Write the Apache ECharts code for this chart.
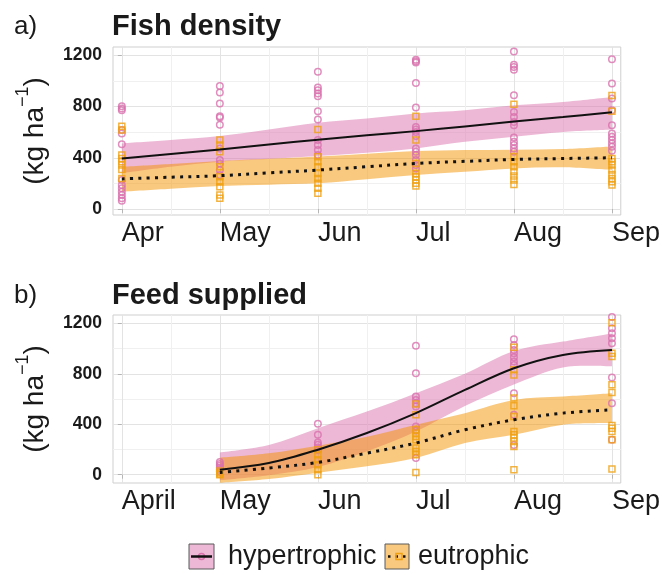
<!DOCTYPE html>
<html><head><meta charset="utf-8">
<script src="https://cdn.jsdelivr.net/npm/echarts@6/dist/echarts.min.js"></script>
<style>html,body{margin:0;padding:0;background:#fff}#c{width:663px;height:575px}</style>
</head><body><div id="c"></div>
<script>
// ---------- data ----------
const monthsA = ['Apr', 'May', 'Jun', 'Jul', 'Aug', 'Sep'];
const monthsB = ['April', 'May', 'Jun', 'Jul', 'Aug', 'Sep'];
const sampleX = [0, 1, 2, 3, 4, 5];
const yTicks = [0, 400, 800, 1200];
const yMinor = [200, 600, 1000];
const xMinor = [0.5, 1.5, 2.5, 3.5, 4.5];

// a) Fish density – observations per sampling month
const fishHyperObs = [
  [802, 784, 771, 616, 590, 506, 226, 187, 161, 135, 109, 83, 65],
  [960, 909, 823, 725, 714, 657, 473, 382, 356, 304, 265],
  [1071, 948, 927, 901, 880, 764, 699, 538, 499, 460, 421],
  [1166, 1153, 1143, 984, 792, 641, 621, 602, 569, 473, 447, 421, 382, 343, 317],
  [1229, 1127, 1109, 1088, 888, 758, 719, 680, 654, 559, 525, 499, 473, 447],
  [1169, 979, 862, 771, 654, 590, 564, 538, 512, 486, 454]
];
const fishEutroObs = [
  [647, 616, 421, 395, 369, 343, 309, 239],
  [538, 499, 447, 330, 252, 213, 174, 109, 83],
  [621, 408, 369, 330, 278, 239, 200, 161, 122],
  [725, 538, 356, 278, 252, 226, 200, 179],
  [818, 408, 369, 330, 291, 257, 226, 192],
  [886, 764, 395, 369, 343, 304, 270, 239, 213, 187]
];
// a) smoothed fits
const fishFitX = [0, 0.5, 1, 1.5, 2, 2.5, 3, 3.5, 4, 4.5, 5];
const fishHyperFit = [395, 430, 465, 503, 541, 575, 608, 645, 683, 718, 755];
const fishHyperUpper = [512, 538, 569, 620, 673, 707, 746, 771, 810, 836, 875];
const fishHyperLower = [280, 330, 369, 390, 413, 439, 473, 525, 564, 602, 621];
const fishEutroFit = [235, 248, 260, 282, 304, 330, 356, 372, 387, 394, 400];
const fishEutroUpper = [330, 352, 374, 392, 410, 432, 452, 460, 463, 468, 488];
const fishEutroLower = [135, 158, 179, 190, 200, 232, 265, 291, 317, 325, 304];

// b) Feed supplied – observations per sampling month (no April samples)
const feedHyperObs = [
  [],
  [100, 85, 70, 55, 40, 25],
  [403, 316, 256, 237, 215, 195],
  [1023, 804, 620, 593, 567, 540, 382, 351, 132],
  [1073, 1028, 989, 963, 931, 897, 870, 646, 475, 235],
  [1250, 1160, 1121, 1081, 1042, 770, 567, 277]
];
const feedEutroObs = [
  [],
  [30, 15, 5, 0],
  [198, 158, 119, 79, 40, 0],
  [560, 475, 356, 330, 303, 277, 211, 184, 158, 18],
  [1010, 831, 791, 607, 546, 461, 343, 316, 290, 264, 224, 40],
  [1205, 963, 936, 712, 651, 390, 369, 343, 277, 45]
];
// b) smoothed fits
const feedFitX = [1, 1.5, 2, 2.5, 3, 3.5, 4, 4.5, 5];
const feedHyperFit = [40, 92, 198, 330, 488, 672, 844, 949, 989];
const feedHyperUpper = [175, 235, 369, 500, 646, 800, 980, 1055, 1120];
const feedHyperLower = [-45, -5, 60, 185, 343, 545, 715, 850, 860];
const feedEutroFit = [18, 53, 97, 171, 251, 356, 435, 488, 514];
const feedEutroUpper = [135, 170, 230, 300, 396, 488, 593, 620, 646];
const feedEutroLower = [-65, -35, 15, 66, 132, 251, 316, 396, 409];

// ---------- styling ----------
const FONT = '"Liberation Sans", Arial, Helvetica, sans-serif';
const PINK_BAND = 'rgba(219,113,171,0.5)';
const ORANGE_BAND = 'rgba(243,147,0,0.5)';
const PINK_PT = '#DA70AE';
const ORANGE_PT = '#F0A010';
const TXT = '#1a1a1a';

const chart = echarts.init(document.getElementById('c'), null, {renderer: 'canvas'});

function obsPoints(lists) {
  const out = [];
  lists.forEach((vals, i) => vals.forEach(v => out.push([sampleX[i], v])));
  return out;
}
function pairs(xs, ys) { return xs.map((x, i) => [x, ys[i]]); }

function xAxes(gi, labels) {
  return [{
    type: 'value', gridIndex: gi, min: -0.09, max: 5.09,
    axisLine: {show: false},
    axisTick: {show: true, customValues: sampleX, length: 4, lineStyle: {color: '#b5b5b5'}},
    axisLabel: {customValues: sampleX, formatter: v => labels[Math.round(v)], align: 'left',
      fontSize: 27, color: TXT, fontFamily: FONT, margin: 5},
    splitLine: {show: true, lineStyle: {color: '#e3e3e3', width: 1}}
  }, {
    type: 'value', gridIndex: gi, min: -0.09, max: 5.09, position: 'top',
    axisLine: {show: false},
    axisTick: {show: false, customValues: xMinor},
    axisLabel: {show: false, customValues: xMinor},
    splitLine: {show: true, lineStyle: {color: '#f0f0f0', width: 1}}
  }];
}
function yAxes(gi, mn, mx) {
  return [{
    type: 'value', gridIndex: gi, min: mn, max: mx,
    name: '{m|(kg ha}{s|\u22121}{m|)}', nameLocation: 'middle', nameRotate: 90, nameGap: 64,
    nameTextStyle: {rich: {
      m: {fontSize: 28, fontFamily: FONT, color: TXT, lineHeight: 35, verticalAlign: 'bottom'},
      s: {fontSize: 18, fontFamily: FONT, color: TXT, lineHeight: 35, verticalAlign: 'top'}
    }},
    axisLine: {show: false},
    axisTick: {show: true, customValues: yTicks, length: 4, lineStyle: {color: '#b5b5b5'}},
    axisLabel: {customValues: yTicks, formatter: v => String(v), fontSize: 17.5, fontWeight: 'bold',
      color: TXT, fontFamily: FONT, margin: 11},
    splitLine: {show: true, lineStyle: {color: '#e3e3e3', width: 1}}
  }, {
    type: 'value', gridIndex: gi, min: mn, max: mx, position: 'right',
    axisLine: {show: false},
    axisTick: {show: false, customValues: yMinor},
    axisLabel: {show: false, customValues: yMinor},
    splitLine: {show: true, lineStyle: {color: '#f0f0f0', width: 1}}
  }];
}

// Catmull-Rom spline through screen points -> cubic bezier path segments
function splinePath(pts, moveFirst) {
  let d = (moveFirst ? 'M' : 'L') + pts[0][0] + ',' + pts[0][1];
  for (let i = 0; i < pts.length - 1; i++) {
    const p0 = pts[Math.max(i - 1, 0)], p1 = pts[i], p2 = pts[i + 1], p3 = pts[Math.min(i + 2, pts.length - 1)];
    const c1 = [p1[0] + (p2[0] - p0[0]) / 6, p1[1] + (p2[1] - p0[1]) / 6];
    const c2 = [p2[0] - (p3[0] - p1[0]) / 6, p2[1] - (p3[1] - p1[1]) / 6];
    d += 'C' + c1[0] + ',' + c1[1] + ' ' + c2[0] + ',' + c2[1] + ' ' + p2[0] + ',' + p2[1];
  }
  return d;
}

// confidence ribbon drawn as one filled path through the axis scales
function band(xi, yi, xs, lower, upper, color) {
  return {
    type: 'custom', xAxisIndex: xi, yAxisIndex: yi, silent: true, z: 1,
    data: xs.map((x, i) => [x, lower[i], upper[i]]),
    encode: {x: 0, y: [1, 2]},
    renderItem: function (params, api) {
      if (params.dataIndex !== 0) return null;
      const top = xs.map((x, i) => api.coord([x, upper[i]]));
      const bot = xs.map((x, i) => api.coord([x, lower[i]])).reverse();
      const d = splinePath(top, true) + splinePath(bot, false) + 'Z';
      return {type: 'path', shape: {pathData: d}, style: {fill: color, stroke: null}};
    }
  };
}
function scatter(xi, yi, lists, symbol, size, color) {
  return {
    type: 'scatter', xAxisIndex: xi, yAxisIndex: yi, data: obsPoints(lists),
    symbol: symbol, symbolSize: size, silent: true, z: 2,
    itemStyle: {color: 'rgba(0,0,0,0)', borderColor: color, borderWidth: 1.5}
  };
}
function fit(xi, yi, xs, ys, dotted) {
  return {
    type: 'line', xAxisIndex: xi, yAxisIndex: yi, data: pairs(xs, ys), smooth: 0.35,
    symbol: 'none', silent: true, z: 3,
    lineStyle: dotted ? {color: '#111', width: 3, type: [3, 5.3], cap: 'butt'} : {color: '#111', width: 2}
  };
}

const series = [
  band(0, 0, fishFitX, fishHyperLower, fishHyperUpper, PINK_BAND),
  band(0, 0, fishFitX, fishEutroLower, fishEutroUpper, ORANGE_BAND),
  scatter(0, 0, fishHyperObs, 'circle', 6.5, PINK_PT),
  scatter(0, 0, fishEutroObs, 'rect', 6, ORANGE_PT),
  fit(0, 0, fishFitX, fishHyperFit, false),
  fit(0, 0, fishFitX, fishEutroFit, true),
  band(2, 2, feedFitX, feedHyperLower, feedHyperUpper, PINK_BAND),
  band(2, 2, feedFitX, feedEutroLower, feedEutroUpper, ORANGE_BAND),
  scatter(2, 2, feedHyperObs, 'circle', 6.5, PINK_PT),
  scatter(2, 2, feedEutroObs, 'rect', 6, ORANGE_PT),
  fit(2, 2, feedFitX, feedHyperFit, false),
  fit(2, 2, feedFitX, feedEutroFit, true)
];

const legendY = 544;
chart.setOption({
  animation: false,
  backgroundColor: '#fff',
  title: [
    {text: 'a)', left: 14, top: 14, padding: 0, textStyle: {fontSize: 26, fontWeight: 'normal', color: TXT, fontFamily: FONT}},
    {text: 'Fish density', left: 112, top: 12, padding: 0, textStyle: {fontSize: 29, fontWeight: 'bold', color: TXT, fontFamily: FONT}},
    {text: 'b)', left: 14, top: 283, padding: 0, textStyle: {fontSize: 26, fontWeight: 'normal', color: TXT, fontFamily: FONT}},
    {text: 'Feed supplied', left: 112, top: 281, padding: 0, textStyle: {fontSize: 29, fontWeight: 'bold', color: TXT, fontFamily: FONT}}
  ],
  grid: [
    {left: 113, top: 47, width: 508, height: 168, show: true, borderColor: '#cfcfcf', borderWidth: 1, backgroundColor: 'transparent'},
    {left: 113, top: 315, width: 508, height: 168, show: true, borderColor: '#cfcfcf', borderWidth: 1, backgroundColor: 'transparent'}
  ],
  xAxis: [].concat(xAxes(0, monthsA), xAxes(1, monthsB)),
  yAxis: [].concat(yAxes(0, -47, 1265), yAxes(1, -66, 1266)),
  series: series,
  graphic: [
    {type: 'rect', shape: {x: 189, y: legendY, width: 25, height: 25}, style: {fill: '#EDB8D5', stroke: '#5a5a5a', lineWidth: 1}},
    {type: 'circle', shape: {cx: 201.5, cy: legendY + 12.5, r: 3}, style: {fill: 'none', stroke: PINK_PT, lineWidth: 1.5}},
    {type: 'line', shape: {x1: 191, y1: legendY + 12.5, x2: 212, y2: legendY + 12.5}, style: {stroke: '#111', lineWidth: 2.5}},
    {type: 'text', x: 228, y: legendY + 12.5, style: {text: 'hypertrophic', fontSize: 27, fontFamily: FONT, fill: TXT, verticalAlign: 'middle'}},
    {type: 'rect', shape: {x: 385, y: legendY, width: 24, height: 25}, style: {fill: '#F9C97F', stroke: '#5a5a5a', lineWidth: 1}},
    {type: 'line', shape: {x1: 388, y1: legendY + 12.5, x2: 407, y2: legendY + 12.5}, style: {stroke: '#111', lineWidth: 2.5, lineDash: [2.5, 5]}},
    {type: 'rect', shape: {x: 396, y: legendY + 9.5, width: 6, height: 6}, style: {fill: 'none', stroke: ORANGE_PT, lineWidth: 1.5}},
    {type: 'text', x: 418, y: legendY + 12.5, style: {text: 'eutrophic', fontSize: 27, fontFamily: FONT, fill: TXT, verticalAlign: 'middle'}}
  ]
});
</script>
</body></html>
